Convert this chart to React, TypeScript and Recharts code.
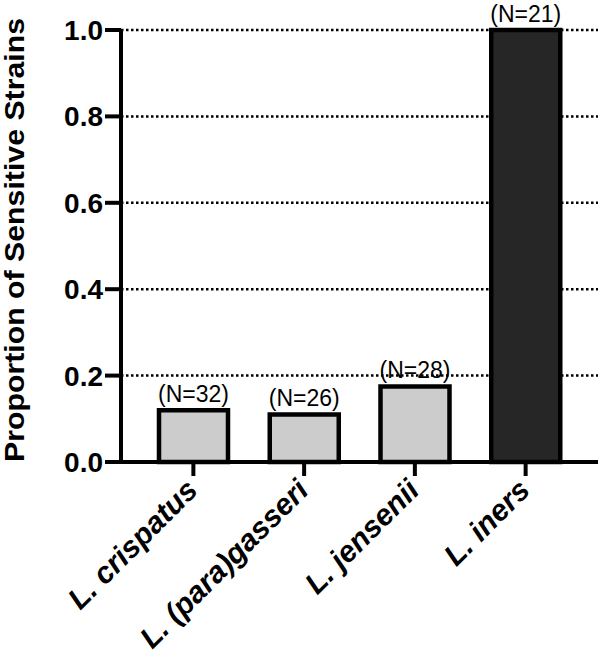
import React from "react";
import { BarChart, Bar, XAxis, YAxis, CartesianGrid, LabelList, Cell } from "recharts";

const categories = ["L. crispatus", "L. (para)gasseri", "L. jensenii", "L. iners"];
const proportions = [0.12, 0.11, 0.175, 1.0];
const nLabels = ["(N=32)", "(N=26)", "(N=28)", "(N=21)"];
const barColors = ["#cccccc", "#cccccc", "#cccccc", "#262626"];
const yTicks = [0, 0.2, 0.4, 0.6, 0.8, 1.0];

const data = categories.map((c, i) => ({ name: c, value: proportions[i], n: nLabels[i] }));

const FONT = "'Liberation Sans', Arial, Helvetica, sans-serif";

const XTick = (props: any) => {
  const { x, y, payload } = props;
  return (
    <g transform={`translate(${x + 6},${y + 14})`}>
      <text
        x={0}
        y={0}
        textAnchor="end"
        transform="rotate(-45)"
        fontSize={30}
        fontWeight="bold"
        fontStyle="italic"
        fontFamily={FONT}
        fill="#000"
      >
        {payload.value}
      </text>
    </g>
  );
};

const YLabel = (props: any) => {
  const { viewBox } = props;
  const cy = viewBox.y + viewBox.height / 2 - 6;
  const cx = 15;
  return (
    <text
      x={cx}
      y={cy}
      transform={`rotate(-90, ${cx}, ${cy})`}
      textAnchor="middle"
      dominantBaseline="central"
      fontSize={27}
      fontWeight="bold"
      fontFamily={FONT}
      fill="#000"
      textLength={444}
      lengthAdjust="spacingAndGlyphs"
    >
      Proportion of Sensitive Strains
    </text>
  );
};

export default function App() {
  return (
    <div style={{ position: "absolute", left: 0, top: 0, width: 600, height: 657, background: "#fff" }}>
      <BarChart
        width={600}
        height={657}
        data={data}
        margin={{ top: 30, right: 2, bottom: 0, left: 0 }}
        barCategoryGap={0}
      >
        <CartesianGrid
          horizontal={true}
          vertical={false}
          stroke="#000"
          strokeWidth={2.5}
          strokeDasharray="2.5 2.5"
        />
        <XAxis
          dataKey="name"
          height={195}
          padding={{ left: 17, right: 17 }}
          interval={0}
          axisLine={{ stroke: "#000", strokeWidth: 4 }}
          tickLine={{ stroke: "#000", strokeWidth: 4 }}
          tickSize={14}
          tickMargin={2}
          tick={<XTick />}
        />
        <YAxis
          width={121}
          domain={[0, 1]}
          ticks={yTicks}
          tickFormatter={(v: number) => v.toFixed(1)}
          axisLine={{ stroke: "#000", strokeWidth: 4 }}
          tickLine={{ stroke: "#000", strokeWidth: 4 }}
          tickSize={16}
          tickMargin={2}
          tick={{ fontSize: 28, fontWeight: "bold", fill: "#000", fontFamily: FONT }}
          label={<YLabel />}
        />
        <Bar dataKey="value" barSize={69} stroke="#000" strokeWidth={4.5} isAnimationActive={false}>
          {data.map((d, i) => (
            <Cell key={d.name} fill={barColors[i]} />
          ))}
          <LabelList dataKey="n" position="top" offset={8} fontSize={23} fill="#000" fontFamily={FONT} />
        </Bar>
      </BarChart>
    </div>
  );
}
